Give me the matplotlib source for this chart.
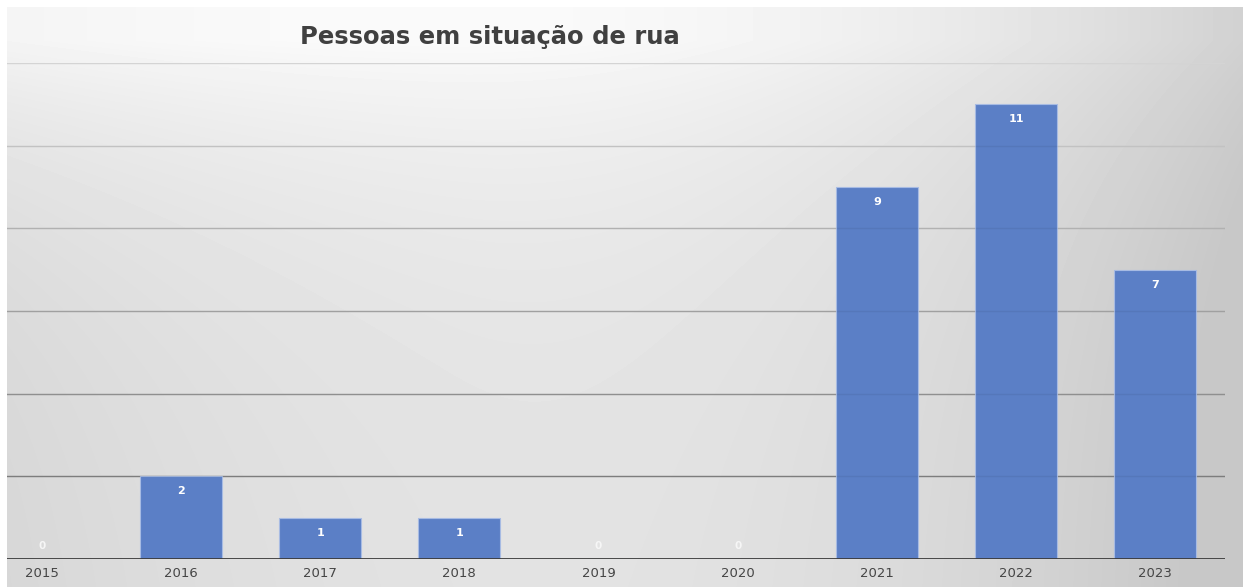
import numpy as np
import matplotlib
matplotlib.use("Agg")
import matplotlib.pyplot as plt

# dados
anos = ["2015", "2016", "2017", "2018", "2019", "2020", "2021", "2022", "2023"]
pessoas = [0, 2, 1, 1, 0, 0, 9, 11, 7]
grade = [2, 4, 6, 8, 10, 12]

W, H, DPI = 1243, 587, 100
BAR = "#5b7fc6"

fig = plt.figure(figsize=(W / DPI, H / DPI), dpi=DPI, facecolor="white")

# fundo em gradiente: claro no alto (título), escurecendo para a direita e para baixo
bg = fig.add_axes([7 / W, 0, 1 - 7 / W, 1 - 7 / H], zorder=0)
xx, yy = np.meshgrid(np.arange(7, W, dtype=float), np.arange(7, H, dtype=float))
horiz = np.where(xx > 450, 6.5e-5, 3e-5) * (xx - 450) ** 2
vert = 30 * (1 - np.exp(-np.clip(yy - 40, 0, None) / 150)) * (1 - 0.5 * xx / W)
shade = np.clip(250 - horiz - vert, 200, 255) / 255.0
bg.imshow(shade, cmap="gray", vmin=0, vmax=1, aspect="auto",
          interpolation="bilinear")
bg.axis("off")

ax = fig.add_axes([7 / W, 28 / H, (1225 - 7) / W, 496 / H], zorder=1)
ax.patch.set_alpha(0)

x = np.arange(len(anos))
ax.bar(x, pessoas, width=0.59, color=BAR, edgecolor="#a7bbe3",
       linewidth=0.8, zorder=3)

# linhas de grade (mais escuras embaixo, como no original)
cores = plt.matplotlib.colors.LinearSegmentedColormap.from_list(
    "g", ["#858585", "#e2e2e2"])
for i, g in enumerate(grade):
    ax.axhline(g, color=cores(i / (len(grade) - 1)), linewidth=1, zorder=1)
    # leve sombra da grade passando sobre as barras
    ax.axhline(g, color="black", alpha=0.06, linewidth=1, zorder=3.5)
ax.axhline(0, color="#3a3a3a", linewidth=2, zorder=4)

for xi, v in zip(x, pessoas):
    if v == 0:
        ax.annotate("0", (xi, 0), xytext=(0, 13), textcoords="offset pixels",
                    ha="center", va="center", fontsize=7.5, fontweight="bold",
                    color="#f6f6f6", zorder=5)
    else:
        ax.annotate(str(v), (xi, v), xytext=(0, -15), textcoords="offset pixels",
                    ha="center", va="center", fontsize=8, fontweight="bold",
                    color="white", zorder=5)

ax.set_xlim(-0.249, 8.5)
ax.set_ylim(0, 12)
ax.set_xticks(x)
ax.set_xticklabels(anos, fontsize=9.5, color="#454545")
ax.tick_params(axis="x", length=0, pad=6)
ax.set_yticks([])
for s in ax.spines.values():
    s.set_visible(False)

fig.text(490 / W, 1 - 37 / H, "Pessoas em situação de rua",
         ha="center", va="center", fontsize=17.5, fontweight="bold",
         color="#404040")

fig.savefig("out.png", dpi=DPI)
